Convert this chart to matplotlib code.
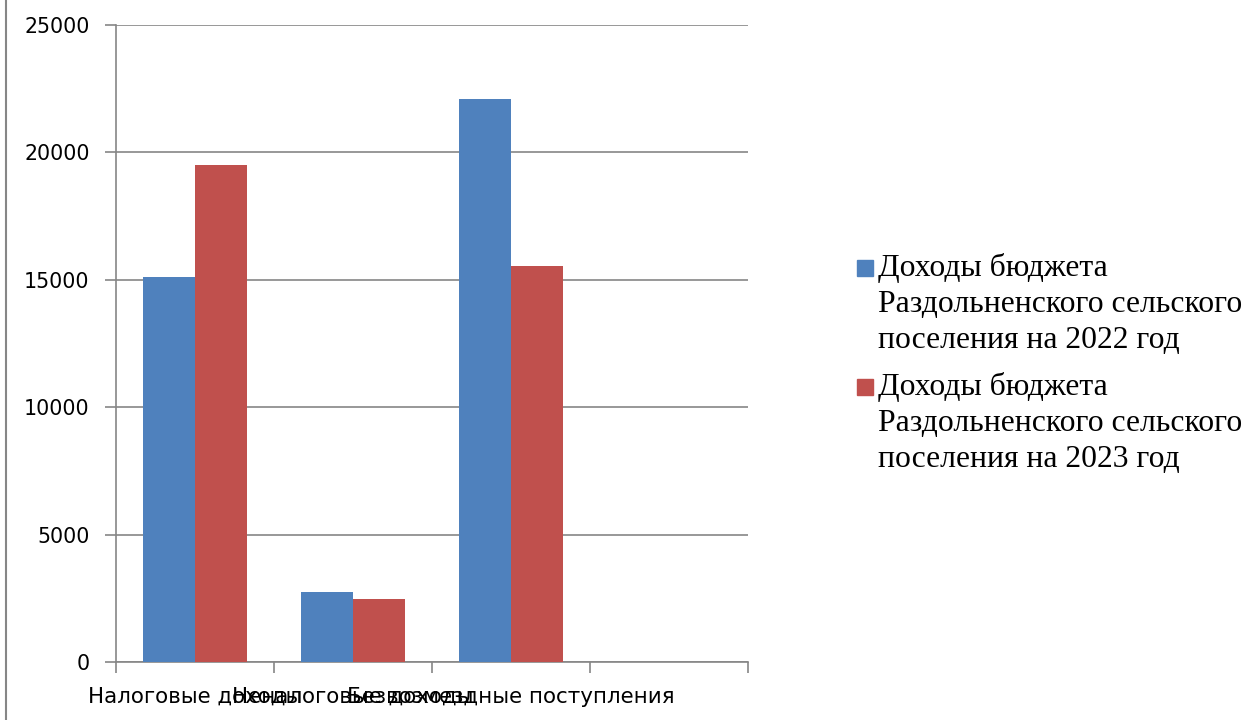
import numpy as np
import matplotlib
matplotlib.use('Agg')
import matplotlib.pyplot as plt
from matplotlib.patches import Rectangle
from matplotlib.lines import Line2D

categories = ['Налоговые доходы', 'Неналоговые доходы', 'Безвозмездные поступления', '']
dohody_2022 = [15110, 2750, 22100, np.nan]
dohody_2023 = [19510, 2480, 15540, np.nan]
series_labels = ['Доходы бюджета\nРаздольненского сельского\nпоселения на 2022 год',
                 'Доходы бюджета\nРаздольненского сельского\nпоселения на 2023 год']
colors = ['#4F81BD', '#C0504D']
y_ticks = [0, 5000, 10000, 15000, 20000, 25000]

W, H = 1249, 720
fig = plt.figure(figsize=(W / 100, H / 100), dpi=100)
ax = fig.add_axes([116 / W, (H - 662) / H, (748 - 116) / W, (662 - 25) / H])

x = np.arange(len(categories)) + 0.5
bw = 0.33
ax.bar(x - bw / 2, dohody_2022, width=bw, color=colors[0], zorder=3)
ax.bar(x + bw / 2, dohody_2023, width=bw, color=colors[1], zorder=3)

ax.set_xlim(0, len(categories))
ax.set_ylim(0, 25000)
ax.set_yticks(y_ticks)
ax.set_yticklabels([str(v) for v in y_ticks], fontsize=14.8, family='DejaVu Sans')
ax.grid(axis='y', color='#868686', linewidth=1.2, zorder=0)

# метки категорий: деления по границам, подписи по центрам
ax.set_xticks(np.arange(len(categories) + 1))
ax.set_xticklabels([])
ax.set_xticks(x, minor=True)
ax.set_xticklabels(categories, minor=True, fontsize=15.4, family='DejaVu Sans')
ax.tick_params(axis='x', which='minor', length=0, pad=18)
ax.tick_params(axis='x', which='major', length=8, color='#868686', width=1.2)
ax.tick_params(axis='y', length=8, color='#868686', width=1.2, pad=11)

for s in ['top', 'right']:
    ax.spines[s].set_visible(False)
for s in ['left', 'bottom']:
    ax.spines[s].set_color('#868686')
    ax.spines[s].set_linewidth(1.2)

# легенда справа
leg_y = [268, 387]
for i, lab in enumerate(series_labels):
    y0 = leg_y[i]
    fig.add_artist(Rectangle((857 / W, (H - y0 - 8) / H), 16 / W, 16 / H,
                             color=colors[i], transform=fig.transFigure))
    fig.text(878 / W, (H - y0 + 15) / H, lab, ha='left', va='top',
             fontsize=22.8, family='Liberation Serif', linespacing=1.31)

# рамка области диаграммы слева
fig.add_artist(Line2D([6 / W, 6 / W], [0, 1], color='#868686', linewidth=1.5,
                      transform=fig.transFigure))

fig.savefig('out.png', dpi=100)
